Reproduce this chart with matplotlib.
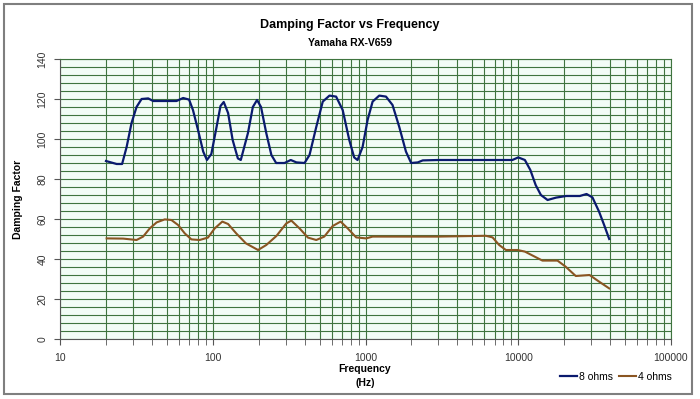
import numpy as np
import matplotlib
matplotlib.use('Agg')
import matplotlib.pyplot as plt
from matplotlib.ticker import LogLocator, NullFormatter, FixedLocator
from matplotlib.patches import Rectangle

plt.rcParams['font.family'] = ['Liberation Sans', 'DejaVu Sans']

# 8 ohms load
freq_8 = [20, 23.5, 25.5, 27.3, 29.4, 31.7, 34.2, 37.8, 40.7, 50, 57.9, 64, 70,
          74.2, 80.1, 86.6, 91.6, 97.9, 105.9, 112.4, 118, 126, 135, 146, 152.6,
          170, 183, 195, 207, 224, 242, 260, 295, 324, 353, 399, 430, 476, 525,
          581, 642, 709, 783, 843, 887, 957, 1032, 1113, 1230, 1362, 1503, 1664,
          1840, 1990, 2200, 2370, 3000, 5000, 9150, 10000, 11050, 12000, 13000,
          14070, 15560, 17700, 20600, 25300, 28000, 30600, 33800, 36500, 39400]
df_8 = [89, 87.5, 87.5, 96, 108, 116, 120, 120.3, 119, 119, 119, 120.5, 119.7,
        114.5, 104.5, 93.7, 89.5, 92.5, 106, 116.5, 118.5, 113, 99.5, 90.3, 89.5,
        103, 116, 119.5, 116, 103, 92, 88, 88, 89.5, 88.3, 88, 92, 106, 118.7,
        121.7, 121.2, 114.5, 99.5, 90.8, 89.5, 96, 109.5, 118.7, 121.7, 121.2, 117,
        106, 93.7, 88, 88.3, 89.3, 89.5, 89.5, 89.5, 90.8, 89.5, 84.5, 77,
        72, 69.5, 70.7, 71.5, 71.5, 72.5, 70.8, 63.7, 57, 50]

# 4 ohms load
freq_4 = [20.2, 25.9, 31.7, 35, 38.7, 42.9, 48.5, 53.6, 59.3, 65.6, 72.5, 82, 93,
          103, 115.5, 126, 142.5, 165, 198, 224, 261, 303, 327, 370, 420, 476,
          537, 610, 687, 765, 869, 1010, 1113, 3000, 6140, 6790, 7500, 8300, 9900,
          11050, 12800, 14400, 18060, 20400, 23800, 29300, 33800, 39400]
df_4 = [50.3, 50.2, 49.5, 51.2, 55.3, 58.3, 59.8, 59.5, 57, 52.8, 49.8, 49.5, 50.7,
        55.3, 58.7, 57.5, 52.8, 47.8, 44.5, 47, 51.5, 57.8, 59.2, 55.3, 50.7, 49.5,
        51.2, 56.5, 58.7, 55.3, 50.8, 50.3, 51.2, 51.2, 51.6, 50.8, 47, 44.5, 44.5,
        43.7, 41.2, 39.2, 39.2, 36.2, 31.5, 32, 28.7, 25.3]

W, H = 700, 399
fig = plt.figure(figsize=(7, 3.99), dpi=100)
fig.patches.append(Rectangle((4 / W, 5 / H), 688 / W, 390 / H, transform=fig.transFigure,
                             fill=False, edgecolor='#7f7f7f', lw=1.5))

ax = fig.add_axes([60 / W, 1 - 339 / H, 611 / W, 280 / H])
ax.set_facecolor('#f2fcf6')

grid_c = '#3f743f'
ax.plot(freq_8, df_8, color='#0a1a6e', lw=1.6, label='8 ohms', zorder=3)
ax.plot(freq_4, df_4, color='#8a5522', lw=1.5, label='4 ohms', zorder=3)

ax.set_xscale('log')
ax.set_xlim(10, 100000)
ax.set_ylim(0, 140)
ax.xaxis.set_major_locator(LogLocator(base=10))
ax.xaxis.set_minor_locator(LogLocator(base=10, subs=np.arange(2, 10)))
ax.xaxis.set_minor_formatter(NullFormatter())
ax.xaxis.set_major_formatter(plt.FuncFormatter(lambda v, p: '%d' % v))
ax.yaxis.set_major_locator(FixedLocator(np.arange(0, 141, 20)))
ax.yaxis.set_minor_locator(FixedLocator(np.arange(0, 141, 4)))

ax.grid(True, which='both', color=grid_c, lw=0.8)
ax.set_axisbelow(True)
for s in ax.spines.values():
    s.set_color(grid_c)
    s.set_linewidth(0.8)
ax.spines['left'].set_color('#555555')
ax.spines['bottom'].set_color('#555555')

ax.tick_params(axis='x', which='both', length=4, color='#555555', labelsize=7.5,
               labelcolor='#333333', pad=6)
ax.tick_params(axis='y', which='major', length=4, color='#555555', labelsize=7.5,
               labelcolor='#333333', pad=5)
ax.tick_params(axis='y', which='minor', length=0)
for lab in ax.get_yticklabels():
    lab.set_rotation(90)
    lab.set_va('center')

fig.text(350 / W, 1 - 25 / H, 'Damping Factor vs Frequency', ha='center', va='center',
         fontsize=9, fontweight='bold')
fig.text(350 / W, 1 - 43 / H, 'Yamaha RX-V659', ha='center', va='center',
         fontsize=7.5, fontweight='bold')
fig.text(18 / W, 1 - 199 / H, 'Damping Factor', ha='center', va='center', rotation=90,
         fontsize=7.5, fontweight='bold')
fig.text(365 / W, 1 - 376 / H, 'Frequency\n(Hz)', ha='center', va='center',
         multialignment='center', fontsize=7.5, fontweight='bold', linespacing=1.4)

fig.legend(loc='center', bbox_to_anchor=(616 / W, 1 - 377 / H), ncol=2, frameon=False,
           fontsize=7.5, handlelength=1.6, handletextpad=0.2, columnspacing=0.6)

fig.savefig('out.png', dpi=100)
